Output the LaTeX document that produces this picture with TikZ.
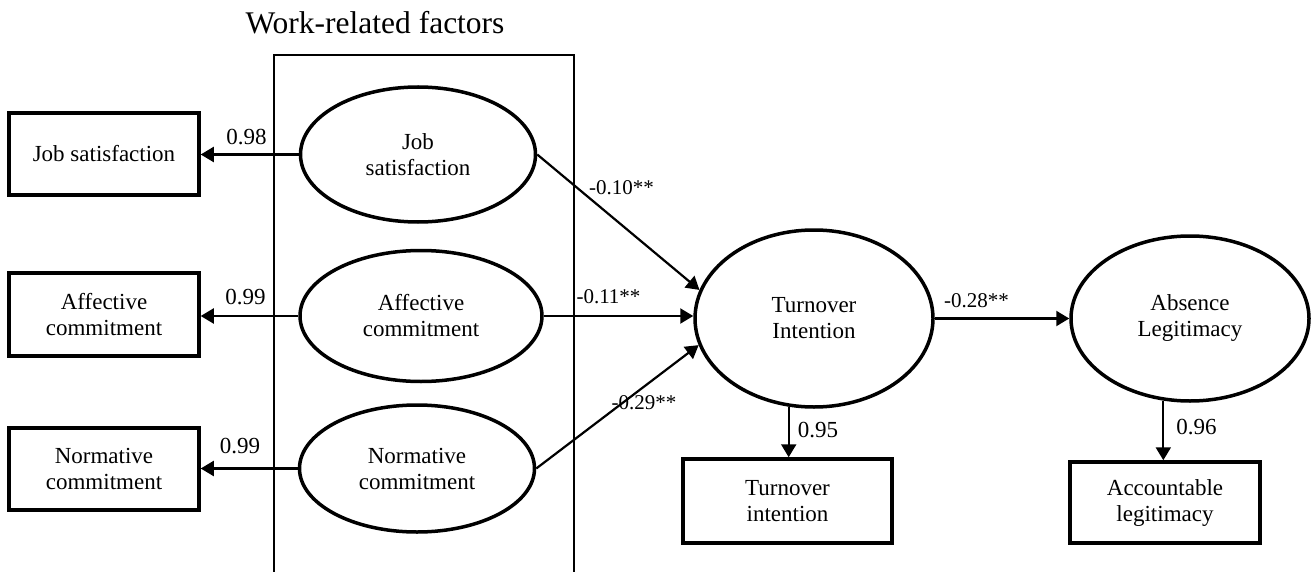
\documentclass[tikz,border=0pt]{standalone}
\usepackage{fontspec}
\setmainfont{Liberation Serif}
\usetikzlibrary{shapes.geometric,arrows.meta}
\begin{document}
\begin{tikzpicture}[x=1pt,y=-1pt,
  txt/.style={font=\fontsize{23}{26}\selectfont, align=center},
  lbl/.style={font=\fontsize{23}{26}\selectfont, anchor=base, inner sep=0pt},
  slbl/.style={font=\fontsize{21}{26}\selectfont, anchor=base, inner sep=0pt},
  obsbox/.style={draw, line width=3.5pt, rectangle, minimum width=#1, inner sep=0pt, txt},
  lat/.style={draw, line width=3.5pt, ellipse, inner sep=0pt, fill=white, txt},
  arr/.style={line width=2.2pt, -{Triangle[length=13pt,width=15pt]}},
  con/.style={line width=2.2pt}
]
\useasboundingbox (0,0) rectangle (1311,572);
% title
\node[anchor=base, inner sep=0pt, font=\fontsize{31.5}{36}\selectfont] (title) at (375,34) {Work-related factors};
% frame of work-related factors
\draw[con] (274,572) -- (274,55) -- (574,55) -- (574,572);
% observed boxes
\node[obsbox=190pt, minimum height=82pt] (bjs) at (104,154) {Job satisfaction};
\node[obsbox=190pt, minimum height=83pt] (bac) at (104,314.5) {Affective\\commitment};
\node[obsbox=190pt, minimum height=82pt] (bnc) at (104,469) {Normative\\commitment};
\node[obsbox=209pt, minimum height=84pt] (bti) at (787.5,501) {Turnover\\intention};
\node[obsbox=190pt, minimum height=81pt] (bal) at (1165,502.5) {Accountable\\legitimacy};
% latent ellipses
\node[lat, minimum width=235pt, minimum height=135pt] (ejs) at (418,154.5) {Job\\satisfaction};
\node[lat, minimum width=242pt, minimum height=131pt] (eac) at (421,316) {Affective\\commitment};
\node[lat, minimum width=235pt, minimum height=127pt] (enc) at (417,468.5) {Normative\\commitment};
\node[lat, minimum width=238pt, minimum height=177pt] (eti) at (814,318.5) {Turnover\\Intention};
\node[lat, minimum width=238pt, minimum height=165pt] (eal) at (1190,318.5) {Absence\\Legitimacy};
% loadings
\draw[arr] (ejs.west) -- (ejs.west -| bjs.east);
\draw[arr] (eac.west) -- (eac.west -| bac.east);
\draw[arr] (enc.west) -- (enc.west -| bnc.east);
\draw[arr] (eti.254) -- (eti.254 |- bti.north);
\draw[arr] (eal.252) -- (eal.252 |- bal.north);
% structural paths
\draw[arr] (ejs.east) -- (eti.166);
\draw[arr] (eac.east) -- (eac.east -| eti.west);
\draw[arr] (enc.east) -- (eti.193);
\draw[arr] (eti.east) -- (eti.east -| eal.west);
% labels
\node[lbl] (l1) at (246.5,145) {0.98};
\node[lbl] (l2) at (245.5,304) {0.99};
\node[lbl] (l3) at (240,453) {0.99};
\node[slbl] (l4) at (621.5,194) {-0.10**};
\node[slbl] (l5) at (608.5,303) {-0.11**};
\node[slbl] (l6) at (644,409) {-0.29**};
\node[slbl] (l7) at (976.5,307) {-0.28**};
\node[lbl] (l8) at (818,437) {0.95};
\node[lbl] (l9) at (1196.5,434) {0.96};
\end{tikzpicture}
\end{document}
